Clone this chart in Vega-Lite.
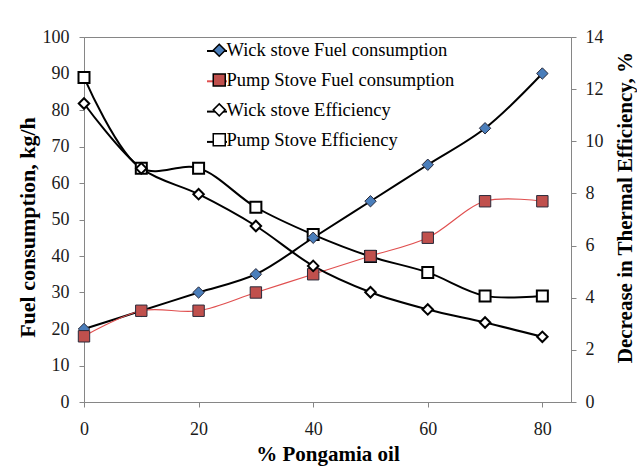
{
  "$schema": "https://vega.github.io/schema/vega-lite/v6.json",
  "width": 487,
  "height": 365,
  "autosize": "none",
  "padding": {"left": 84, "top": 37, "right": 66, "bottom": 65},
  "background": "white",
  "config": {
    "view": {"stroke": "#868686", "strokeWidth": 1},
    "font": "Times New Roman, Liberation Serif, serif",
    "axis": {
      "domainColor": "#868686", "tickColor": "#868686", "tickSize": 5, "grid": false,
      "labelFont": "Times New Roman, Liberation Serif, serif", "labelFontSize": 18, "labelColor": "#1a1a1a",
      "titleFont": "Times New Roman, Liberation Serif, serif", "titleFontSize": 22, "titleFontWeight": "bold", "titleColor": "black"
    },
    "legend": {"labelFont": "Times New Roman, Liberation Serif, serif", "labelLimit": 400}
  },
  "data": {"values": [
    {"pct": 0, "series": "Wick stove Fuel consumption", "value": 20},
    {"pct": 10, "series": "Wick stove Fuel consumption", "value": 25},
    {"pct": 20, "series": "Wick stove Fuel consumption", "value": 30},
    {"pct": 30, "series": "Wick stove Fuel consumption", "value": 35},
    {"pct": 40, "series": "Wick stove Fuel consumption", "value": 45},
    {"pct": 50, "series": "Wick stove Fuel consumption", "value": 55},
    {"pct": 60, "series": "Wick stove Fuel consumption", "value": 65},
    {"pct": 70, "series": "Wick stove Fuel consumption", "value": 75},
    {"pct": 80, "series": "Wick stove Fuel consumption", "value": 90},
    {"pct": 0, "series": "Pump Stove Fuel consumption", "value": 18},
    {"pct": 10, "series": "Pump Stove Fuel consumption", "value": 25},
    {"pct": 20, "series": "Pump Stove Fuel consumption", "value": 25},
    {"pct": 30, "series": "Pump Stove Fuel consumption", "value": 30},
    {"pct": 40, "series": "Pump Stove Fuel consumption", "value": 35},
    {"pct": 50, "series": "Pump Stove Fuel consumption", "value": 40},
    {"pct": 60, "series": "Pump Stove Fuel consumption", "value": 45},
    {"pct": 70, "series": "Pump Stove Fuel consumption", "value": 55},
    {"pct": 80, "series": "Pump Stove Fuel consumption", "value": 55},
    {"pct": 0, "series": "Wick stove Efficiency", "value": 11.45},
    {"pct": 10, "series": "Wick stove Efficiency", "value": 8.96},
    {"pct": 20, "series": "Wick stove Efficiency", "value": 7.97},
    {"pct": 30, "series": "Wick stove Efficiency", "value": 6.75},
    {"pct": 40, "series": "Wick stove Efficiency", "value": 5.22},
    {"pct": 50, "series": "Wick stove Efficiency", "value": 4.21},
    {"pct": 60, "series": "Wick stove Efficiency", "value": 3.55},
    {"pct": 70, "series": "Wick stove Efficiency", "value": 3.05},
    {"pct": 80, "series": "Wick stove Efficiency", "value": 2.5},
    {"pct": 0, "series": "Pump Stove Efficiency", "value": 12.45},
    {"pct": 10, "series": "Pump Stove Efficiency", "value": 8.97},
    {"pct": 20, "series": "Pump Stove Efficiency", "value": 8.97},
    {"pct": 30, "series": "Pump Stove Efficiency", "value": 7.47},
    {"pct": 40, "series": "Pump Stove Efficiency", "value": 6.42},
    {"pct": 50, "series": "Pump Stove Efficiency", "value": 5.58},
    {"pct": 60, "series": "Pump Stove Efficiency", "value": 4.97},
    {"pct": 70, "series": "Pump Stove Efficiency", "value": 4.07},
    {"pct": 80, "series": "Pump Stove Efficiency", "value": 4.07}
  ]},
  "encoding": {
    "x": {
      "field": "pct", "type": "quantitative",
      "scale": {"domain": [0, 85], "nice": false, "zero": false},
      "axis": {"values": [0, 20, 40, 60, 80], "title": "% Pongamia oil", "labelPadding": 13, "titleY": 58, "titleBaseline": "alphabetic", "labelFlush": false,
        "labelFont": "Times New Roman, Liberation Serif, serif", "titleFont": "Times New Roman, Liberation Serif, serif", "titleFontSize": 21}
    }
  },
  "layer": [
    {
      "transform": [{"filter": "datum.series == 'Wick stove Fuel consumption'"}],
      "mark": {"type": "line", "strokeWidth": 2, "interpolate": "catmull-rom"},
      "encoding": {
        "y": {"field": "value", "type": "quantitative", "scale": {"domain": [0, 100], "nice": false},
          "axis": {"orient": "left", "title": "Fuel consumption,  kg/h", "values": [0,10,20,30,40,50,60,70,80,90,100], "labelPadding": 10, "titleX": -57, "titleY": 190, "titleAngle": 270, "titleBaseline": "middle",
            "labelFont": "Times New Roman, Liberation Serif, serif", "titleFont": "Times New Roman, Liberation Serif, serif"}},
        "stroke": {"field": "series", "type": "nominal",
          "scale": {"domain": ["Wick stove Fuel consumption", "Pump Stove Fuel consumption", "Wick stove Efficiency", "Pump Stove Efficiency", " "], "range": ["#000000", "#E05050", "#000000", "#000000", "transparent"]},
          "legend": {"orient": "none", "legendX": 122, "legendY": 3, "title": null, "symbolType": "stroke", "symbolSize": 400, "symbolStrokeWidth": 2, "labelExpr": "''", "labelFontSize": 18.5, "rowPadding": 9.3, "padding": 0, "zindex": 0,
            "values": ["Wick stove Fuel consumption", "Pump Stove Fuel consumption", "Wick stove Efficiency", "Pump Stove Efficiency"]}}
      }
    },
    {
      "transform": [{"filter": "datum.series == 'Pump Stove Fuel consumption'"}],
      "mark": {"type": "line", "strokeWidth": 1.2, "interpolate": "catmull-rom"},
      "encoding": {
        "y": {"field": "value", "type": "quantitative", "scale": {"domain": [0, 100], "nice": false}, "axis": null},
        "stroke": {"field": "series", "type": "nominal",
          "scale": {"domain": ["Wick stove Fuel consumption", "Pump Stove Fuel consumption", "Wick stove Efficiency", "Pump Stove Efficiency", " "], "range": ["#000000", "#E05050", "#000000", "#000000", "transparent"]}}
      }
    },
    {
      "transform": [{"filter": "indexof(datum.series, 'Efficiency') >= 0"}],
      "mark": {"type": "line", "strokeWidth": 2, "interpolate": "catmull-rom"},
      "encoding": {
        "y": {"field": "value", "type": "quantitative", "scale": {"domain": [0, 14], "nice": false},
          "axis": {"orient": "right", "title": "Decrease in Thermal Efficiency, %", "values": [0,2,4,6,8,10,12,14], "labelPadding": 9, "titleX": 54, "titleY": 170, "titleAngle": 270, "titleBaseline": "middle",
            "labelFont": "Times New Roman, Liberation Serif, serif", "titleFont": "Times New Roman, Liberation Serif, serif", "titleFontSize": 21}},
        "stroke": {"field": "series", "type": "nominal",
          "scale": {"domain": ["Wick stove Fuel consumption", "Pump Stove Fuel consumption", "Wick stove Efficiency", "Pump Stove Efficiency", " "], "range": ["#000000", "#E05050", "#000000", "#000000", "transparent"]}}
      }
    },
    {
      "transform": [{"filter": "datum.series == 'Pump Stove Efficiency'"}],
      "mark": {"type": "point", "filled": true, "stroke": "#000000", "strokeWidth": 2, "size": 121, "opacity": 1},
      "encoding": {
        "y": {"field": "value", "type": "quantitative", "scale": {"domain": [0, 14], "nice": false}, "axis": null},
        "shape": {"field": "series", "type": "nominal",
          "scale": {"domain": ["Wick stove Fuel consumption", "Pump Stove Fuel consumption", "Wick stove Efficiency", "Pump Stove Efficiency"], "range": ["diamond", "square", "diamond", "square"]},
          "legend": {"orient": "none", "legendX": 126, "legendY": 4, "title": null, "symbolSize": 144, "labelFontSize": 18.5, "labelColor": "#000000", "labelOffset": -2, "rowPadding": 10.8, "padding": 0, "zindex": 1,
            "encode": {"symbols": {"update": {
              "fillOpacity": {"signal": "indexof(datum.value, 'Efficiency') >= 0 ? 0 : 1"},
              "stroke": {"value": "#111111"},
              "strokeOpacity": {"value": 1},
              "strokeWidth": {"signal": "indexof(datum.value, 'Efficiency') >= 0 ? 2 : 1"}}}}}},
        "fill": {"field": "series", "type": "nominal",
          "scale": {"domain": ["Wick stove Fuel consumption", "Pump Stove Fuel consumption", "Wick stove Efficiency", "Pump Stove Efficiency"], "range": ["#4A7EBB", "#C0504D", "#FFFFFF", "#FFFFFF"]}}
      }
    },
    {
      "transform": [{"filter": "indexof(datum.series, 'Fuel') >= 0"}],
      "mark": {"type": "point", "filled": true, "stroke": "#2a2a3a", "strokeWidth": 1, "size": 130, "opacity": 1},
      "encoding": {
        "y": {"field": "value", "type": "quantitative", "scale": {"domain": [0, 100], "nice": false}, "axis": null},
        "shape": {"field": "series", "type": "nominal",
          "scale": {"domain": ["Wick stove Fuel consumption", "Pump Stove Fuel consumption", "Wick stove Efficiency", "Pump Stove Efficiency"], "range": ["diamond", "square", "diamond", "square"]}},
        "fill": {"field": "series", "type": "nominal",
          "scale": {"domain": ["Wick stove Fuel consumption", "Pump Stove Fuel consumption", "Wick stove Efficiency", "Pump Stove Efficiency"], "range": ["#4A7EBB", "#C0504D", "#FFFFFF", "#FFFFFF"]}}
      }
    },
    {
      "transform": [{"filter": "datum.series == 'Wick stove Efficiency'"}],
      "mark": {"type": "point", "filled": true, "stroke": "#000000", "strokeWidth": 2, "size": 110, "opacity": 1},
      "encoding": {
        "y": {"field": "value", "type": "quantitative", "scale": {"domain": [0, 14], "nice": false}, "axis": null},
        "shape": {"field": "series", "type": "nominal",
          "scale": {"domain": ["Wick stove Fuel consumption", "Pump Stove Fuel consumption", "Wick stove Efficiency", "Pump Stove Efficiency"], "range": ["diamond", "square", "diamond", "square"]}},
        "fill": {"field": "series", "type": "nominal",
          "scale": {"domain": ["Wick stove Fuel consumption", "Pump Stove Fuel consumption", "Wick stove Efficiency", "Pump Stove Efficiency"], "range": ["#4A7EBB", "#C0504D", "#FFFFFF", "#FFFFFF"]}}
      }
    }
  ],
  "resolve": {"scale": {"y": "independent"}}
}
